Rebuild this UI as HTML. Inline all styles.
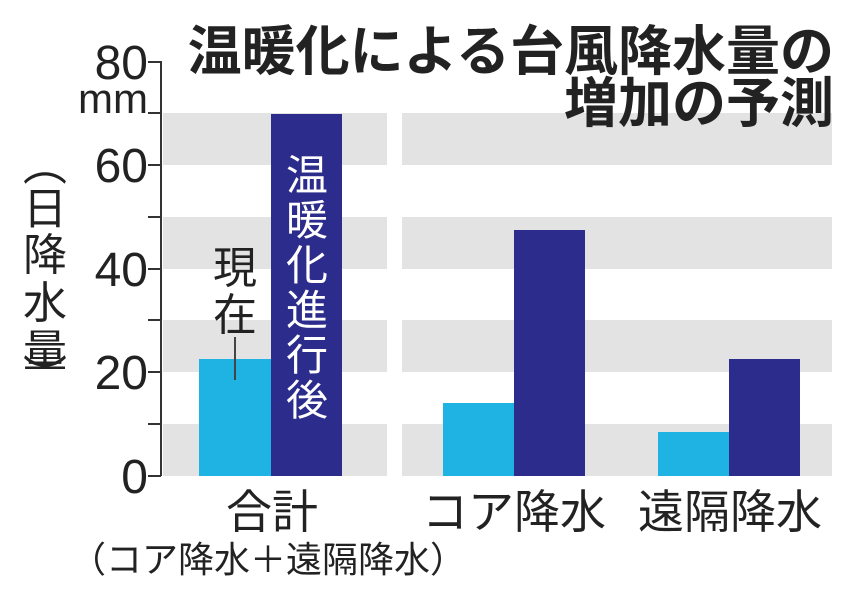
<!DOCTYPE html>
<html><head><meta charset="utf-8"><style>
body{margin:0;background:#fff;}
svg text{font-family:"Liberation Sans","Noto Sans CJK JP",sans-serif;fill:#222;}
</style></head><body>
<svg width="852" height="600" viewBox="0 0 852 600" xmlns="http://www.w3.org/2000/svg">
<g fill="#e3e3e3">
<rect x="163" y="113" width="224" height="52"/><rect x="163" y="217" width="224" height="52"/>
<rect x="163" y="320" width="224" height="52"/><rect x="163" y="424" width="224" height="52"/>
<rect x="402" y="113" width="430" height="52"/><rect x="402" y="217" width="430" height="52"/>
<rect x="402" y="320" width="430" height="52"/><rect x="402" y="424" width="430" height="52"/>
</g>
<g stroke="#333" stroke-width="2">
<line x1="161" y1="61" x2="161" y2="476"/>
<line x1="148" y1="62" x2="161" y2="62"/><line x1="148" y1="113" x2="161" y2="113"/>
<line x1="148" y1="165" x2="161" y2="165"/><line x1="148" y1="217" x2="161" y2="217"/>
<line x1="148" y1="269" x2="161" y2="269"/><line x1="148" y1="320" x2="161" y2="320"/>
<line x1="148" y1="372" x2="161" y2="372"/><line x1="148" y1="424" x2="161" y2="424"/>
<line x1="148" y1="476" x2="161" y2="476"/>
</g>
<g font-size="48" text-anchor="end">
<text x="148" y="79">80</text><text x="148" y="182">60</text><text x="148" y="286">40</text>
<text x="148" y="389">20</text><text x="148" y="493">0</text>
</g>
<text x="148" y="113" font-size="42" text-anchor="end">mm</text>
<g font-size="44" text-anchor="middle">
<text x="45" y="180">︵</text><text x="45" y="224">日</text><text x="45" y="270">降</text>
<text x="45" y="318">水</text><text x="45" y="366">量</text><text x="45" y="392">︶</text>
</g>
<rect x="199" y="359" width="72" height="117" fill="#1fb3e3"/>
<rect x="271" y="114" width="71" height="362" fill="#2c2c8c"/>
<rect x="443" y="403" width="71" height="73" fill="#1fb3e3"/>
<rect x="514" y="230" width="71" height="246" fill="#2c2c8c"/>
<rect x="658" y="432" width="71" height="44" fill="#1fb3e3"/>
<rect x="729" y="359" width="71" height="117" fill="#2c2c8c"/>
<line x1="235" y1="337" x2="235" y2="380" stroke="#444" stroke-width="2"/>
<g font-size="44" text-anchor="middle">
<text x="235" y="283">現</text><text x="235" y="330">在</text>
</g>
<g font-size="42" text-anchor="middle">
<text x="307" y="190" style="fill:#fff">温</text><text x="307" y="235" style="fill:#fff">暖</text>
<text x="307" y="280" style="fill:#fff">化</text><text x="307" y="325" style="fill:#fff">進</text>
<text x="307" y="370" style="fill:#fff">行</text><text x="307" y="415" style="fill:#fff">後</text>
</g>
<g font-size="46" text-anchor="middle">
<text x="272" y="528">合計</text><text x="514" y="528">コア降水</text><text x="730" y="528">遠隔降水</text>
</g>
<text x="268" y="572" font-size="36" text-anchor="middle">（コア降水＋遠隔降水）</text>
<g font-size="54" font-weight="bold" text-anchor="end">
<text x="834" y="70">温暖化による台風降水量の</text>
<text x="834" y="122">増加の予測</text>
</g>
</svg>
</body></html>
